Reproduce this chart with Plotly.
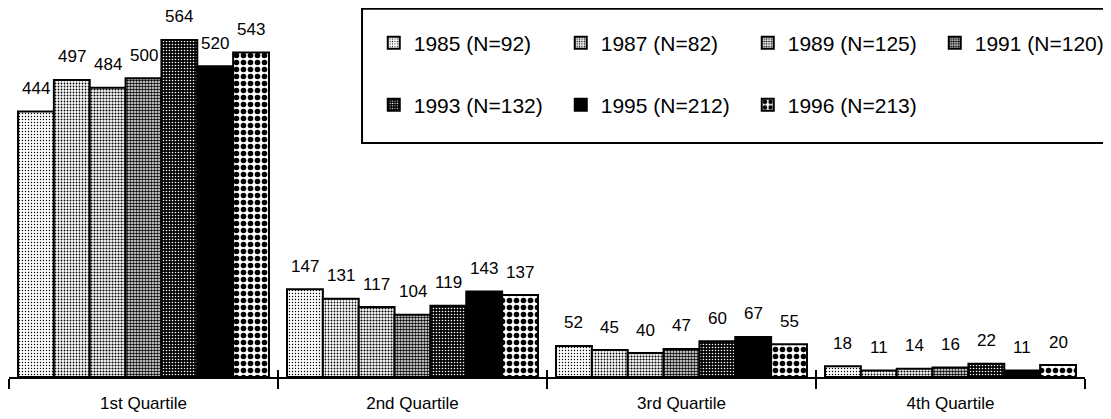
import plotly.graph_objects as go

categories = ["1st Quartile", "2nd Quartile", "3rd Quartile", "4th Quartile"]
series_names = ["1985 (N=92)", "1987 (N=82)", "1989 (N=125)", "1991 (N=120)",
                "1993 (N=132)", "1995 (N=212)", "1996 (N=213)"]
v1985 = [444, 147, 52, 18]
v1987 = [497, 131, 45, 11]
v1989 = [484, 117, 40, 14]
v1991 = [500, 104, 47, 16]
v1993 = [564, 119, 60, 22]
v1995 = [520, 143, 67, 11]
v1996 = [543, 137, 55, 20]
all_values = [v1985, v1987, v1989, v1991, v1993, v1995, v1996]

# pattern styles (bg, fg, shape, size, solidity)
styles = [
    ("white", "black", ".", 3, 0.18),
    ("white", "black", ".", 3, 0.28),
    ("white", "black", ".", 3, 0.40),
    ("white", "black", ".", 3, 0.55),
    ("black", "white", ".", 3, 0.22),
    ("black", "black", "", 3, 0.5),
    ("white", "black", ".", 7, 0.50),
]

FONT = "Arial, Liberation Sans, Helvetica, sans-serif"
BARGAP = 0.067
n = len(series_names)

fig = go.Figure()
for j, (name, vals, st) in enumerate(zip(series_names, all_values, styles)):
    bg, fg, shape, size, sol = st
    fig.add_trace(go.Bar(
        x=categories, y=vals, name=name,
        legend="legend" if j < 4 else "legend2",
        marker=dict(color=bg, line=dict(color="black", width=2),
                    pattern=dict(shape=shape, fgcolor=fg, bgcolor=bg,
                                 size=size, solidity=sol, fillmode="replace")),
        hoverinfo="skip",
    ))

# helper trace for inside tick marks on an overlay axis
fig.add_trace(go.Scatter(x=categories, y=[None] * len(categories), xaxis="x2",
                         mode="markers", showlegend=False, hoverinfo="skip"))

w = (1 - BARGAP) / n
annotations = []
for j, vals in enumerate(all_values):
    for i, v in enumerate(vals):
        annotations.append(dict(
            x=i + (j - (n - 1) / 2) * w, y=v, xref="x", yref="y",
            text=str(v), showarrow=False, yanchor="middle", yshift=23,
            font=dict(family=FONT, size=17, color="black")))

legend_common = dict(orientation="h", xanchor="left", yanchor="middle",
                     entrywidth=142, entrywidthmode="pixels",
                     bgcolor="rgba(0,0,0,0)", borderwidth=0,
                     font=dict(family=FONT, size=21, color="black"))

fig.update_layout(
    width=1103, height=411,
    margin=dict(l=1, r=26, t=2, b=42, autoexpand=False),
    paper_bgcolor="white", plot_bgcolor="white",
    barmode="group", bargap=BARGAP, bargroupgap=0,
    font=dict(family=FONT, color="black"),
    xaxis=dict(type="category", categoryarray=categories, range=[-0.5, 3.5],
               showline=True, linecolor="black", linewidth=2,
               ticks="outside", ticklen=10, tickwidth=2, tickcolor="black",
               tickson="boundaries", showgrid=False, zeroline=False,
               tickfont=dict(family=FONT, size=17, color="black"),
               ticklabelstandoff=10),
    xaxis2=dict(type="category", categoryarray=categories, range=[-0.5, 3.5],
                overlaying="x", anchor="y", side="bottom",
                ticks="inside", ticklen=7, tickwidth=2, tickcolor="black",
                tickson="boundaries", showticklabels=False, showline=False,
                showgrid=False, zeroline=False),
    yaxis=dict(range=[0, 614], visible=False, showgrid=False, zeroline=False),
    legend=dict(x=0.339, y=0.910, **legend_common),
    legend2=dict(x=0.339, y=0.741, **legend_common),
    shapes=[dict(type="rect", xref="paper", yref="paper",
                 x0=0.3281, x1=1.0251, y0=0.6376, y1=1.0035,
                 line=dict(color="black", width=2), fillcolor="rgba(0,0,0,0)",
                 layer="below")],
    annotations=annotations,
    showlegend=True,
)

fig.write_html("out.html")
